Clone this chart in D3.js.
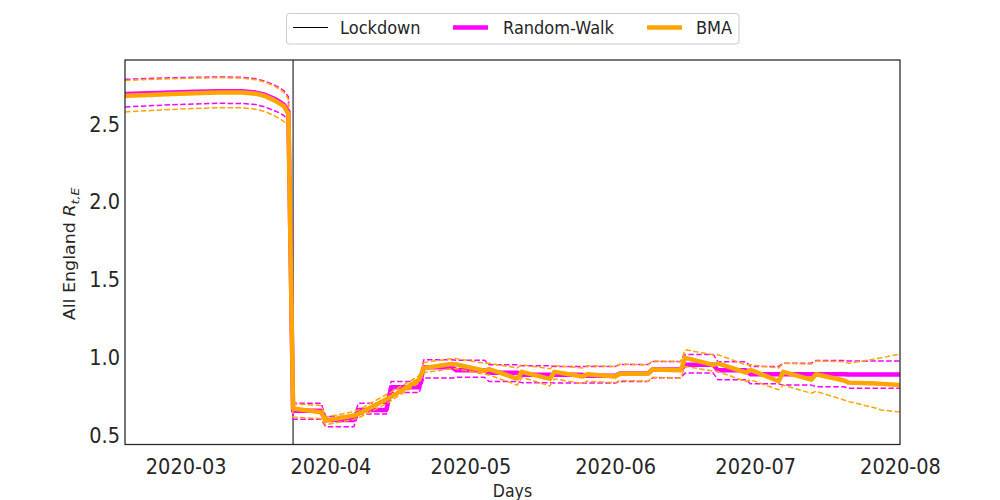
<!DOCTYPE html>
<html><head><meta charset="utf-8">
<script src="https://cdn.jsdelivr.net/npm/d3@7"></script>
<style>
body{margin:0;background:#fff}
text{font-family:"DejaVu Sans",sans-serif;fill:#262626}
</style>
</head><body>
<svg id="c" width="1000" height="500"></svg>
<script>
// ---------- data ----------
const dates = [
 "2020-02-17","2020-02-22","2020-02-27","2020-03-03","2020-03-08","2020-03-13",
 "2020-03-16","2020-03-18","2020-03-20","2020-03-21","2020-03-22","2020-03-23",
 "2020-03-24","2020-03-30","2020-03-31","2020-04-06","2020-04-07","2020-04-13",
 "2020-04-14","2020-04-20","2020-04-21","2020-04-27","2020-04-28","2020-05-04",
 "2020-05-05","2020-05-11","2020-05-12","2020-05-18","2020-05-19","2020-05-25",
 "2020-05-26","2020-06-01","2020-06-02","2020-06-08","2020-06-09","2020-06-15",
 "2020-06-16","2020-06-22","2020-06-23","2020-06-29","2020-06-30","2020-07-06",
 "2020-07-07","2020-07-13","2020-07-14","2020-07-20","2020-07-21","2020-07-27",
 "2020-07-28","2020-08-01"
];
const rwMean = [
 2.688,2.693,2.698,2.703,2.706,2.705,2.697,2.683,2.657,2.640,2.620,2.575,
 0.655,0.655,0.597,0.597,0.661,0.661,0.807,0.807,0.935,0.935,0.915,0.915,
 0.900,0.900,0.886,0.886,0.886,0.886,0.880,0.880,0.895,0.895,0.920,0.920,
 0.950,0.950,0.915,0.915,0.890,0.890,0.890,0.890,0.890,0.890,0.888,0.888,
 0.888,0.888
];
const rwUpper = [
 2.782,2.787,2.792,2.795,2.797,2.795,2.785,2.770,2.745,2.730,2.710,2.670,
 0.704,0.704,0.618,0.618,0.704,0.704,0.843,0.843,0.982,0.982,0.980,0.980,
 0.950,0.950,0.944,0.944,0.940,0.940,0.940,0.940,0.952,0.952,0.972,0.972,
 1.017,1.017,0.970,0.970,0.940,0.940,0.961,0.961,0.978,0.978,0.975,0.975,
 0.975,0.975
];
const rwLower = [
 2.605,2.612,2.619,2.624,2.628,2.627,2.620,2.605,2.580,2.568,2.550,2.520,
 0.601,0.601,0.553,0.553,0.635,0.635,0.772,0.772,0.865,0.865,0.870,0.870,
 0.843,0.843,0.836,0.836,0.833,0.833,0.833,0.833,0.843,0.843,0.867,0.867,
 0.897,0.897,0.854,0.854,0.828,0.828,0.820,0.820,0.810,0.810,0.800,0.800,
 0.800,0.800
];
const bmaMean = [
 2.676,2.682,2.688,2.693,2.697,2.697,2.690,2.675,2.647,2.630,2.610,2.560,
 0.670,0.645,0.592,0.625,0.635,0.730,0.745,0.855,0.930,0.955,0.952,0.912,
 0.922,0.862,0.905,0.860,0.905,0.875,0.890,0.875,0.893,0.893,0.920,0.915,
 0.995,0.950,0.960,0.900,0.918,0.845,0.905,0.855,0.890,0.850,0.836,0.830,
 0.828,0.820
];
const bmaUpper = [
 2.775,2.781,2.786,2.790,2.792,2.790,2.780,2.764,2.738,2.722,2.700,2.655,
 0.700,0.690,0.615,0.650,0.660,0.760,0.775,0.880,0.965,0.990,0.990,0.960,
 0.960,0.930,0.950,0.925,0.945,0.930,0.945,0.940,0.955,0.950,0.975,0.970,
 1.047,1.015,1.015,0.950,0.950,0.930,0.960,0.955,0.975,0.970,0.960,0.990,
 0.995,1.020
];
const bmaLower = [
 2.573,2.581,2.589,2.595,2.600,2.599,2.590,2.575,2.548,2.532,2.512,2.480,
 0.615,0.605,0.565,0.600,0.610,0.700,0.720,0.835,0.900,0.925,0.925,0.890,
 0.885,0.820,0.870,0.815,0.860,0.830,0.845,0.835,0.850,0.845,0.870,0.865,
 0.940,0.910,0.907,0.843,0.854,0.790,0.820,0.768,0.780,0.725,0.714,0.672,
 0.660,0.648
];
const lockdownDate = "2020-03-24";
const xTickLabels = ["2020-03","2020-04","2020-05","2020-06","2020-07","2020-08"];
const yTickValues = [0.5,1.0,1.5,2.0,2.5];
const legendLabels = ["Lockdown","Random-Walk","BMA"];

// ---------- chart ----------
const svg = d3.select("#c");
const L = 125, R = 900, T = 60, B = 444.5;
const parseDay = d3.utcParse("%Y-%m-%d");
const parseMonth = d3.utcParse("%Y-%m");
const x = d3.scaleUtc().domain([parseDay(dates[0]), parseDay(dates[dates.length-1])]).range([L, R]);
const y = d3.scaleLinear().domain([0.439, 2.906]).range([B, T]);

svg.append("clipPath").attr("id","clip").append("rect")
  .attr("x",L).attr("y",T).attr("width",R-L).attr("height",B-T);

const gPlot = svg.append("g").attr("clip-path","url(#clip)");
const MAG = "#ff00ff", ORA = "#ffa500";

// lockdown vertical line
gPlot.append("line")
  .attr("x1", x(parseDay(lockdownDate))).attr("x2", x(parseDay(lockdownDate)))
  .attr("y1", T).attr("y2", B).attr("stroke","#000").attr("stroke-width",1);

function series(vals){ return dates.map((d,i)=>({d:parseDay(d), v:vals[i]})); }
const line = d3.line().x(p=>x(p.d)).y(p=>y(p.v));

function draw(vals, color, width, dashed){
  gPlot.append("path").datum(series(vals))
    .attr("d", line).attr("fill","none").attr("stroke",color)
    .attr("stroke-width",width).attr("stroke-linejoin","round")
    .attr("stroke-dasharray", dashed ? "5.5,2.4" : null);
}
draw(rwMean, MAG, 4.5, false);
draw(rwUpper, MAG, 1.5, true);
draw(rwLower, MAG, 1.5, true);
draw(bmaMean, ORA, 4.5, false);
draw(bmaUpper, ORA, 1.5, true);
draw(bmaLower, ORA, 1.5, true);

// frame
svg.append("rect").attr("x",L).attr("y",T).attr("width",R-L).attr("height",B-T)
  .attr("fill","none").attr("stroke","#262626").attr("stroke-width",1.25);

// axes
const xAxis = d3.axisBottom(x).tickValues(xTickLabels.map(parseMonth))
  .tickFormat(d3.utcFormat("%Y-%m")).tickSize(0);
svg.append("g").attr("transform",`translate(0,${B})`).call(xAxis)
  .call(g=>g.select(".domain").remove())
  .call(g=>g.selectAll("text").attr("dy",null).attr("y",29.5)
     .attr("transform","scale(0.9,1)").style("font-size","21.5px")
     .style("font-family","DejaVu Sans").attr("fill","#262626"));

const yAxis = d3.axisLeft(y).tickValues(yTickValues).tickFormat(d3.format(".1f")).tickSize(0);
svg.append("g").attr("transform",`translate(${L},0)`).call(yAxis)
  .call(g=>g.select(".domain").remove())
  .call(g=>g.selectAll("text").attr("x",-5.5).attr("dy","0.36em")
     .attr("transform","scale(0.9,1)").style("font-size","21.5px")
     .style("font-family","DejaVu Sans").attr("fill","#262626"));

// axis labels
svg.append("text").attr("transform",`translate(${(L+R)/2},497) scale(0.9,1)`)
  .attr("text-anchor","middle").style("font-size","17.5px").text("Days");

const yl = svg.append("text").attr("transform","translate(75,254) rotate(-90) scale(1,0.9)")
  .attr("text-anchor","middle").style("font-size","17.5px");
yl.append("tspan").text("All England ");
yl.append("tspan").style("font-style","italic").text("R");
yl.append("tspan").attr("dy",4).style("font-size","12.5px").style("font-style","italic").text("t,E");

// legend
const lg = svg.append("g");
lg.append("rect").attr("x",286.5).attr("y",13.5).attr("width",452.5).attr("height",30.5)
  .attr("rx",3).attr("fill","#fff").attr("fill-opacity",0.8)
  .attr("stroke","#cccccc").attr("stroke-width",1);
const legendItems = [
  {lx:293, tx:340, color:"#000", w:1},
  {lx:453, tx:503, color:MAG, w:4.5},
  {lx:647, tx:696, color:ORA, w:4.5}
];
legendItems.forEach((it,i)=>{
  lg.append("line").attr("x1",it.lx).attr("x2",it.lx+35).attr("y1",27.5).attr("y2",27.5)
    .attr("stroke",it.color).attr("stroke-width",it.w);
  lg.append("text").attr("transform",`translate(${it.tx},33.5) scale(0.9,1)`)
    .style("font-size","18px").text(legendLabels[i]);
});
</script>
</body></html>
